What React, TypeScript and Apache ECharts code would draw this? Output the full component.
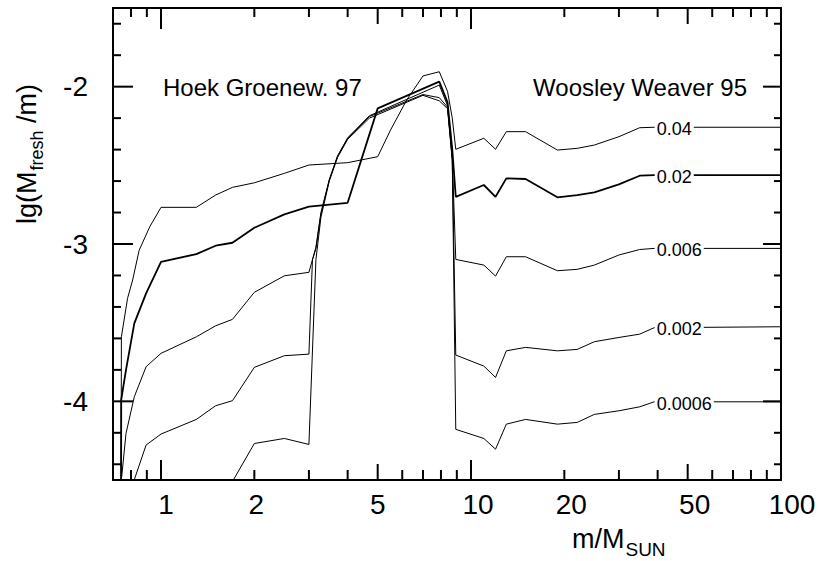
import React, { useEffect, useRef } from 'react';
import * as echarts from 'echarts';

// ---- data ----
const curveNames = ['0.04', '0.02', '0.006', '0.002', '0.0006'];

const mass04 = [0.743, 0.745, 0.78, 0.81, 0.85, 0.92, 1.0, 1.3, 1.5, 1.7, 2.0, 2.5, 3.0, 4.0, 5.0, 5.5, 6.2, 7.0, 7.9, 8.4, 8.7, 8.93, 11, 12, 13, 15, 19, 22, 25, 30, 35, 39, 100];
const lg04 = [-4.8, -3.59, -3.345, -3.229, -3.04, -2.89, -2.767, -2.767, -2.689, -2.64, -2.611, -2.551, -2.498, -2.483, -2.445, -2.276, -2.085, -1.932, -1.905, -2.03, -2.2, -2.398, -2.328, -2.398, -2.286, -2.286, -2.403, -2.392, -2.371, -2.318, -2.261, -2.258, -2.258];

const mass02 = [0.743, 0.744, 0.771, 0.82, 0.895, 1.0, 1.3, 1.5, 1.7, 2.0, 2.5, 3.0, 4.0, 5.0, 7.9, 8.4, 8.7, 8.93, 11, 12, 13, 15, 19, 22, 25, 30, 35, 39, 100];
const lg02 = [-4.8, -3.99, -3.8, -3.505, -3.314, -3.113, -3.064, -3.011, -2.992, -2.897, -2.812, -2.763, -2.738, -2.138, -1.968, -2.1, -2.4, -2.7, -2.625, -2.7, -2.583, -2.587, -2.703, -2.689, -2.672, -2.621, -2.566, -2.562, -2.562];

const mass006 = [0.743, 0.745, 0.771, 0.82, 0.895, 1.0, 1.3, 1.5, 1.7, 2.0, 2.5, 3.0, 3.08, 3.16, 3.28, 3.49, 3.71, 4.0, 4.7, 7.9, 8.4, 8.7, 8.93, 11, 12, 13, 15, 19, 22, 25, 30, 35, 39, 100];
const lg006 = [-4.8, -4.5, -4.204, -3.971, -3.78, -3.695, -3.59, -3.52, -3.479, -3.307, -3.202, -3.18, -3.1, -3.02, -2.8, -2.59, -2.44, -2.325, -2.185, -1.99, -2.12, -2.45, -3.098, -3.134, -3.204, -3.081, -3.081, -3.17, -3.161, -3.134, -3.07, -3.035, -3.028, -3.028];

const mass002 = [0.8, 0.895, 1.0, 1.3, 1.5, 1.7, 2.0, 2.5, 3.0, 3.08, 3.16, 3.28, 3.49, 3.71, 4.0, 4.7, 7.0, 7.9, 8.4, 8.7, 8.93, 11, 12, 13, 15, 19, 22, 25, 30, 35, 39, 100];
const lg002 = [-4.56, -4.278, -4.208, -4.115, -4.028, -3.996, -3.784, -3.71, -3.7, -3.1, -3.03, -2.81, -2.595, -2.445, -2.33, -2.19, -2.05, -2.07, -2.13, -2.46, -3.706, -3.776, -3.848, -3.679, -3.657, -3.679, -3.67, -3.621, -3.594, -3.573, -3.532, -3.526];

const mass0006 = [1.6, 2.0, 2.5, 3.0, 3.16, 3.28, 3.49, 3.71, 4.0, 4.7, 7.0, 7.9, 8.4, 8.7, 8.93, 11, 12, 13, 15, 19, 22, 25, 30, 35, 39, 100];
const lg0006 = [-4.6, -4.268, -4.236, -4.274, -3.1, -2.83, -2.6, -2.45, -2.335, -2.2, -2.055, -2.09, -2.14, -2.47, -4.178, -4.236, -4.304, -4.145, -4.115, -4.145, -4.134, -4.083, -4.06, -4.035, -4.003, -4.003];

const curveMasses = [mass04, mass02, mass006, mass002, mass0006];
const curveValues = [lg04, lg02, lg006, lg002, lg0006];
const labelMass = 39;

const xTickLabels = [1, 2, 5, 10, 20, 50, 100];
const xMajorTicks = [1, 10, 100];
const xMidTicks = [5, 50];
const xMinorTicks = [0.8, 0.9, 2, 3, 4, 6, 7, 8, 9, 20, 30, 40, 60, 70, 80, 90];
const yTickLabels = [-4, -3, -2];
const yMinorTicks = [-4.4, -4.2, -3.8, -3.6, -3.4, -3.2, -2.8, -2.6, -2.4, -2.2, -1.8, -1.6];

const leftTitle = 'Hoek Groenew. 97';
const rightTitle = 'Woosley Weaver 95';

// ---- styles ----
const FONT = '"Liberation Sans", Arial, Helvetica, sans-serif';
const BLACK = '#000';
const lineWidths = [1, 1.8, 1, 1, 1];
const xLabelPad: Record<string, number> = { '1': 10, '2': 4, '5': 0, '10': 14, '20': 14, '50': 14, '100': 22 };
// tick lengths in px: [bottom/left, top/right]
const xTickLen = { major: [20, 21], mid: [16, 16], minor: [10, 9] };
const yTickLen = { major: [20, 18], minor: [8, 7] };

function xAxisDef(position: 'top' | 'bottom', withLabels: boolean) {
  const rich: Record<string, any> = {};
  Object.values(xLabelPad).forEach((p) => {
    rich['p' + p] = { fontSize: 28, lineHeight: 28, fontFamily: FONT, color: BLACK, padding: [0, 0, 0, p] };
  });
  return {
    type: 'log',
    logBase: 10,
    min: 0.7,
    max: 100,
    position,
    gridIndex: 0,
    axisLine: { show: true, onZero: false, lineStyle: { color: BLACK, width: 2 } },
    axisTick: { show: false },
    axisLabel: withLabels
      ? {
          show: true,
          customValues: xTickLabels,
          margin: 10,
          formatter: (v: number) => {
            const s = String(Math.round(v * 1000) / 1000);
            const p = xLabelPad[s] ?? 0;
            return `{p${p}|${s}}`;
          },
          rich,
        }
      : { show: false },
    splitLine: { show: false },
    minorTick: { show: false },
    minorSplitLine: { show: false },
  };
}

function yAxisDef(position: 'left' | 'right', withLabels: boolean) {
  return {
    type: 'value',
    min: -4.5,
    max: -1.5,
    position,
    gridIndex: 0,
    axisLine: { show: true, onZero: false, lineStyle: { color: BLACK, width: 2 } },
    axisTick: { show: false },
    axisLabel: withLabels
      ? { show: true, customValues: yTickLabels, margin: 25, fontSize: 28, fontFamily: FONT, color: BLACK }
      : { show: false },
    splitLine: { show: false },
  };
}

export default function App() {
  const ref = useRef<HTMLDivElement>(null);

  useEffect(() => {
    if (!ref.current) return;
    const chart = echarts.init(ref.current, undefined, { renderer: 'svg' });

    const series: any[] = curveNames.map((name, k) => {
      const ms = curveMasses[k];
      const vs = curveValues[k];
      return {
        type: 'line',
        name,
        data: ms.map((m, i) => [m, vs[i]]),
        xAxisIndex: 0,
        yAxisIndex: 0,
        symbol: 'none',
        showSymbol: false,
        clip: true,
        silent: true,
        lineStyle: { color: BLACK, width: lineWidths[k] },
        markPoint: {
          silent: true,
          symbol: 'rect',
          symbolSize: 1,
          itemStyle: { color: 'rgba(0,0,0,0)' },
          label: {
            show: true,
            position: 'right',
            distance: 0,
            offset: [0, 2],
            formatter: '{b}',
            fontSize: 18,
            fontFamily: FONT,
            color: BLACK,
            backgroundColor: '#fff',
            padding: [1, 2, 1, 2],
          },
          data: [{ name, coord: [labelMass, vs[vs.length - 1]] }],
        },
      };
    });

    // tick marks on the frame, placed through the axes' own scales
    const xTickData = [
      ...xMajorTicks.map((m) => [m, -3, ...xTickLen.major]),
      ...xMidTicks.map((m) => [m, -3, ...xTickLen.mid]),
      ...xMinorTicks.map((m) => [m, -3, ...xTickLen.minor]),
    ];
    const yTickData = [
      ...yTickLabels.map((v) => [1, v, ...yTickLen.major]),
      ...yMinorTicks.map((v) => [1, v, ...yTickLen.minor]),
    ];
    const tickStyle = { stroke: BLACK, lineWidth: 2 };

    series.push({
      type: 'custom',
      name: 'xTicks',
      silent: true,
      xAxisIndex: 0,
      yAxisIndex: 0,
      encode: { x: 0, y: 1 },
      data: xTickData,
      renderItem: (params: any, api: any) => {
        const cs = params.coordSys;
        const x = api.coord([api.value(0), api.value(1)])[0];
        const lb = api.value(2);
        const lt = api.value(3);
        const bottom = cs.y + cs.height;
        return {
          type: 'group',
          children: [
            { type: 'line', shape: { x1: x, y1: bottom, x2: x, y2: bottom - lb }, style: tickStyle },
            { type: 'line', shape: { x1: x, y1: cs.y, x2: x, y2: cs.y + lt }, style: tickStyle },
          ],
        };
      },
    });
    series.push({
      type: 'custom',
      name: 'yTicks',
      silent: true,
      xAxisIndex: 0,
      yAxisIndex: 0,
      encode: { x: 0, y: 1 },
      data: yTickData,
      renderItem: (params: any, api: any) => {
        const cs = params.coordSys;
        const y = api.coord([api.value(0), api.value(1)])[1];
        const ll = api.value(2);
        const lr = api.value(3);
        const right = cs.x + cs.width;
        return {
          type: 'group',
          children: [
            { type: 'line', shape: { x1: cs.x, y1: y, x2: cs.x + ll, y2: y }, style: tickStyle },
            { type: 'line', shape: { x1: right, y1: y, x2: right - lr, y2: y }, style: tickStyle },
          ],
        };
      },
    });

    const option: any = {
      animation: false,
      backgroundColor: '#fff',
      grid: { left: 113, right: 41, top: 8, bottom: 81, containLabel: false },
      xAxis: [xAxisDef('bottom', true), xAxisDef('top', false)],
      yAxis: [yAxisDef('left', true), yAxisDef('right', false)],
      series,
      graphic: [
        {
          type: 'text',
          x: 163,
          y: 87,
          silent: true,
          style: { text: leftTitle, fontSize: 24, fontFamily: FONT, fill: BLACK, align: 'left', verticalAlign: 'middle' },
        },
        {
          type: 'text',
          x: 747,
          y: 87,
          silent: true,
          style: { text: rightTitle, fontSize: 24, fontFamily: FONT, fill: BLACK, align: 'right', verticalAlign: 'middle' },
        },
        {
          type: 'text',
          x: 572,
          y: 539,
          silent: true,
          style: {
            text: '{a|m/M}{s|SUN}',
            align: 'left',
            verticalAlign: 'middle',
            rich: {
              a: { fontSize: 27, lineHeight: 27, fontFamily: FONT, fill: BLACK, verticalAlign: 'middle' },
              s: { fontSize: 19, lineHeight: 19, fontFamily: FONT, fill: BLACK, verticalAlign: 'middle', padding: [20, 0, 0, 1] },
            },
          },
        },
        {
          type: 'text',
          x: 27,
          y: 154,
          rotation: Math.PI / 2,
          silent: true,
          style: {
            text: '{a|lg(M}{s|fresh}{a| /m)}',
            align: 'center',
            verticalAlign: 'middle',
            rich: {
              a: { fontSize: 27, lineHeight: 27, fontFamily: FONT, fill: BLACK, verticalAlign: 'middle' },
              s: { fontSize: 18, lineHeight: 18, fontFamily: FONT, fill: BLACK, verticalAlign: 'middle', padding: [20, 0, 0, 1] },
            },
          },
        },
      ],
    };

    chart.setOption(option);
    return () => chart.dispose();
  }, []);

  return (
    <div
      ref={ref}
      style={{ position: 'fixed', left: 0, top: 0, width: 822, height: 561, background: '#fff' }}
    />
  );
}
